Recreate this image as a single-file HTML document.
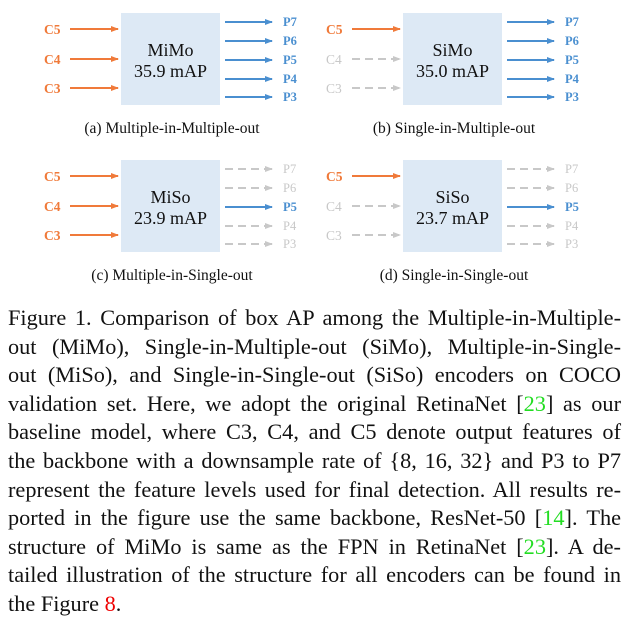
<!DOCTYPE html>
<html><head><meta charset="utf-8"><style>
html,body{margin:0;padding:0;background:#fff;}
body{width:631px;height:625px;position:relative;overflow:hidden;font-family:"Liberation Serif",serif;}
#cap{position:absolute;left:8px;top:304px;width:613px;font-size:22.3px;line-height:28.6px;color:#111;}
#cap div{text-align:justify;text-align-last:justify;white-space:nowrap;}
#cap div.last{text-align-last:left;}
.g{color:#22dd22}.r{color:#e00}
</style></head><body>
<svg id="fig" width="631" height="300" style="position:absolute;left:0;top:0" xmlns="http://www.w3.org/2000/svg" font-family="Liberation Serif, serif">
<defs>
<marker id="ao" markerWidth="8" markerHeight="8" refX="7" refY="4" orient="auto" markerUnits="userSpaceOnUse"><path d="M0,1 L8,4 L0,7 z" fill="#f07a3a"/></marker>
<marker id="ab" markerWidth="8" markerHeight="8" refX="7" refY="4" orient="auto" markerUnits="userSpaceOnUse"><path d="M0,1 L8,4 L0,7 z" fill="#4a8fd0"/></marker>
<marker id="ag" markerWidth="8" markerHeight="8" refX="7" refY="4" orient="auto" markerUnits="userSpaceOnUse"><path d="M0,1 L8,4 L0,7 z" fill="#c8c8c8"/></marker>
</defs>
<g id="panels"></g>
</svg>
<div id="cap">
<div>Figure 1. Comparison of box AP among the Multiple-in-Multiple-</div>
<div>out (MiMo), Single-in-Multiple-out (SiMo), Multiple-in-Single-</div>
<div>out (MiSo), and Single-in-Single-out (SiSo) encoders on COCO</div>
<div>validation set. Here, we adopt the original RetinaNet [<span class="g">23</span>] as our</div>
<div>baseline model, where C3, C4, and C5 denote output features of</div>
<div>the backbone with a downsample rate of {8, 16, 32} and P3 to P7</div>
<div>represent the feature levels used for final detection. All results re-</div>
<div>ported in the figure use the same backbone, ResNet-50 [<span class="g">14</span>]. The</div>
<div>structure of MiMo is same as the FPN in RetinaNet [<span class="g">23</span>]. A de-</div>
<div>tailed illustration of the structure for all encoders can be found in</div>
<div class="last">the Figure <span class="r">8</span>.</div>
</div>
<script>
const names=["MiMo","SiMo","MiSo","SiSo"];
const maps=["35.9","35.0","23.9","23.7"];
const captions=["(a) Multiple-in-Multiple-out","(b) Single-in-Multiple-out","(c) Multiple-in-Single-out","(d) Single-in-Single-out"];
const inActive=[[1,1,1],[1,0,0],[1,1,1],[1,0,0]]; // C5,C4,C3
const outActive=[[1,1,1,1,1],[1,1,1,1,1],[0,0,1,0,0],[0,0,1,0,0]]; // P7..P3
const inLabels=["C5","C4","C3"];
const outLabels=["P7","P6","P5","P4","P3"];
const NS="http://www.w3.org/2000/svg";
const root=document.getElementById('panels');
function mk(tag,attrs,txt){const e=document.createElementNS(NS,tag);for(const k in attrs)e.setAttribute(k,attrs[k]);if(txt)e.textContent=txt;return e;}
const inY=[16,46,75], outY=[9,28,47,66,84];
for(let p=0;p<4;p++){
  const ox=(p%2)*282, oy=Math.floor(p/2)*147;
  const g=mk('g',{transform:`translate(${ox},${oy})`});
  
  
  const box=mk('rect',{x:121,y:13,width:99,height:92,fill:'#dde9f5'});
  
  
  g.appendChild(box);
  g.appendChild(mk('text',{x:170.5,y:56,'font-size':18,'text-anchor':'middle',fill:'#111'},names[p]));
  g.appendChild(mk('text',{x:170.5,y:77,'font-size':18,'text-anchor':'middle',fill:'#111'},maps[p]+' mAP'));
  for(let i=0;i<3;i++){
    const a=inActive[p][i], y=inY[i]+13, c=a?'#f07a3a':'#c8c8c8';
    const t=mk('text',{x:44,y:y+5,'font-size':13.5,'font-weight':a?'bold':'normal',fill:c},inLabels[i]);
    
    
    g.appendChild(t);
    const l=mk('line',{x1:70,y1:y,x2:118,y2:y,stroke:c,'stroke-width':2,'marker-end':a?'url(#ao)':'url(#ag)'});
    if(!a)l.setAttribute('stroke-dasharray','8,5');
    
    
    g.appendChild(l);
  }
  for(let i=0;i<5;i++){
    const a=outActive[p][i], y=outY[i]+13, c=a?'#4a8fd0':'#c8c8c8';
    const l=mk('line',{x1:225,y1:y,x2:272,y2:y,stroke:c,'stroke-width':2,'marker-end':a?'url(#ab)':'url(#ag)'});
    if(!a)l.setAttribute('stroke-dasharray','8,5');
    
    
    g.appendChild(l);
    const t=mk('text',{x:283,y:y+4,'font-size':12.5,'font-weight':a?'bold':'normal',fill:c},outLabels[i]);
    
    
    g.appendChild(t);
  }
  const cp=mk('text',{x:172,y:133,'font-size':15.5,'text-anchor':'middle',fill:'#111'},captions[p]);
  
  
  g.appendChild(cp);
  root.appendChild(g);
}
</script>
</body></html>
